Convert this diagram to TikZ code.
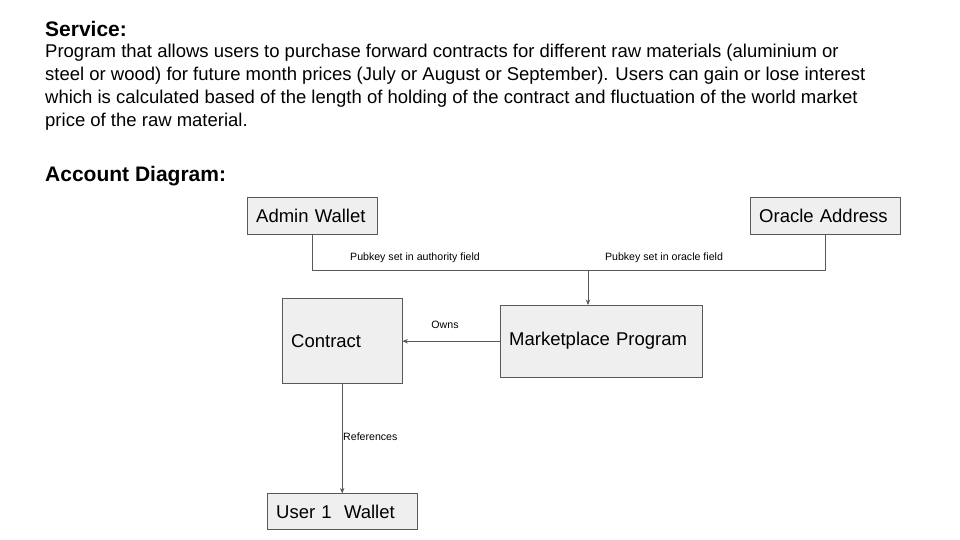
\documentclass[tikz,border=0pt]{standalone}
\usepackage{fontspec}
\setmainfont{Liberation Sans}
\usetikzlibrary{positioning,arrows.meta}
\definecolor{boxgray}{HTML}{EFEFEF}
\definecolor{linegray}{HTML}{595959}
\begin{document}
\begin{tikzpicture}[x=1pt, y=-1pt]
        \tikzstyle{heading} = [anchor=base west, inner sep=0pt, font=\bfseries\fontsize{21}{25}\selectfont]
        \tikzstyle{account} = [rectangle, draw=linegray, fill=boxgray, anchor=north west, inner xsep=9pt, inner ysep=0pt, align=left, font=\fontsize{18.5}{22}\selectfont]
        \tikzstyle{link} = [draw=linegray, line width=0.8pt]
        \tikzstyle{tip} = [-{Stealth[length=5.5pt, width=4.5pt]}]
        \tikzstyle{tag} = [inner sep=0pt, font=\fontsize{10.6}{12}\selectfont]
        \useasboundingbox (0,0) rectangle (960,540);

        \node (service) [heading] at (45,37) {Service:};
        % base of a multi-line node is its last line
        \node (about) [anchor=base west, inner sep=0pt, align=left, font=\fontsize{18.5}{23}\selectfont] at (45,127) {Program that allows users to purchase forward contracts for different raw materials (aluminium or\\steel or wood) for future month prices (July or August or September). Users can gain or lose interest\\which is calculated based of the length of holding of the contract and fluctuation of the world market\\price of the raw material.};
        \node (diagram) [heading] at (45,182) {Account Diagram:};

        \node (admin) [account, text width=112pt, minimum height=37pt] at (247,197) {Admin Wallet};
        \node (oracle) [account, text width=132pt, minimum height=37pt] at (750,197) {Oracle Address};
        \node (contract) [account, text width=102pt, minimum height=85pt] at (282,298) {Contract};
        \node (market) [account, text width=184pt, minimum height=72pt] at (500,305) {Marketplace Program};
        \node (user) [account, anchor=north, text width=132pt, minimum height=36pt, below=110pt of contract] {User 1\ \ Wallet};

        \coordinate (join) at (588,270);
        \draw[link] (admin.south) |- (join);
        \draw[link] (oracle.south) |- (join);
        \draw[link, tip] (join) -- (join |- market.north);
        \draw[link, tip] (market.west) -- (contract.east |- market.west);
        \draw[link, tip] (contract) -- (user);

        \node (authority) [tag] at (415,258) {Pubkey set in authority field};
        \node (oraclefield) [tag] at (664,258) {Pubkey set in oracle field};
        \node (owns) [tag] at (445,325) {Owns};
        \node (refs) [tag, anchor=west] at (343,437) {References};
\end{tikzpicture}
\end{document}
